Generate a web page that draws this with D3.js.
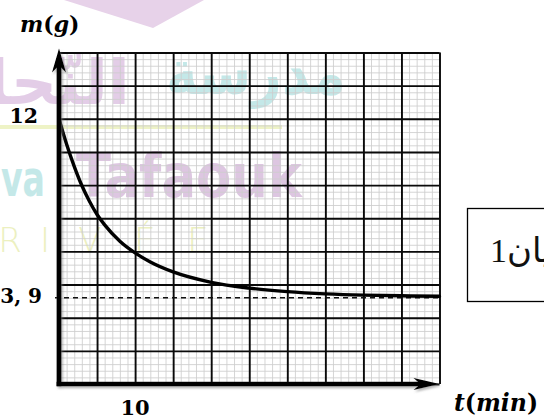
<!DOCTYPE html>
<html>
<head>
<meta charset="utf-8">
<script src="https://cdn.jsdelivr.net/npm/d3@7/dist/d3.min.js"></script>
<style>
  html, body { margin: 0; padding: 0; background: #fff; overflow: hidden; }
  svg { display: block; }
</style>
</head>
<body>
<svg id="chart" width="544" height="420"></svg>
<script>
// Mass m (g) of the sample against time t (min)
const timeMin = [0, 1, 2, 3, 4, 5, 6, 8, 10, 12, 15, 20, 25, 30, 35, 40, 45, 50];
const massG   = [12, 10.85, 9.85, 8.98, 8.27, 7.67, 7.2, 6.46, 5.93, 5.52, 5.07, 4.6, 4.34, 4.18, 4.08, 4.02, 3.99, 3.97];
const finalMassG = 3.9;          // horizontal asymptote (dashed)
const xLabelTicks = [10];        // labelled time tick
const yLabelTicks = [12];        // labelled mass tick
const finalMassLabel = "3, 9";
const xTitle = ["t", "(", "min", ")"];
const yTitle = ["m", "(", "g", ")"];
const boxLabel = "بيان1";

const svg = d3.select("#chart");

const x = d3.scaleLinear().domain([0, 50]).range([59, 439.5]);
const y = d3.scaleLinear().domain([0, 15]).range([384, 52.5]);
const plotH = y(0) - y(15);
const plotW = x(50) - x(0);

// ---- faint school watermark behind the graph paper ----
const wm = svg.append("g").attr("class", "watermark");
wm.append("path")
  .attr("d", "M64,0 L153,28 L204,0 Z")
  .attr("fill", "#e7d2e9");
wm.append("rect").attr("x", 0).attr("y", 125).attr("width", 282).attr("height", 4)
  .attr("fill", "#eef3c6");
wm.append("text").text("مدرسة")
  .attr("x", 166).attr("y", 94)
  .attr("textLength", 180).attr("lengthAdjust", "spacingAndGlyphs")
  .attr("font-family", "DejaVu Sans").attr("font-weight", "bold").attr("font-size", 62)
  .attr("fill", "#c4e8e8");
wm.append("text").text("النّجاح")
  .attr("x", -60).attr("y", 104)
  .attr("textLength", 190).attr("lengthAdjust", "spacingAndGlyphs")
  .attr("font-family", "DejaVu Sans").attr("font-weight", "bold").attr("font-size", 62)
  .attr("fill", "#e3cde7");
wm.append("text").text("va")
  .attr("x", 1).attr("y", 196)
  .attr("textLength", 44).attr("lengthAdjust", "spacingAndGlyphs")
  .attr("font-family", "DejaVu Sans").attr("font-weight", "bold").attr("font-size", 50)
  .attr("fill", "#c4e8e8");
wm.append("text").text("Tafaouk")
  .attr("x", 76).attr("y", 197)
  .attr("textLength", 226).attr("lengthAdjust", "spacingAndGlyphs")
  .attr("font-family", "DejaVu Sans").attr("font-weight", "bold").attr("font-size", 60)
  .attr("fill", "#ddc6e1");
const rivee = ["R", "I", "V", "É", "E"];
wm.selectAll("text.rv").data(rivee).join("text").attr("class", "rv")
  .text(d => d)
  .attr("x", (d, i) => [10, 45, 90, 145, 198][i])
  .attr("y", 252)
  .attr("text-anchor", "middle")
  .attr("font-family", "DejaVu Sans").attr("font-weight", "300").attr("font-size", 34)
  .attr("fill", "#ecf0c0");

// ---- graph paper ----
const grid = svg.append("g").attr("class", "grid");

function gridLayer(cls, xs, ys, color, width) {
  const gx = grid.append("g").attr("class", cls)
    .attr("transform", `translate(0,${y(0)})`)
    .call(d3.axisBottom(x).tickValues(xs).tickSize(-plotH).tickFormat(""));
  const gy = grid.append("g").attr("class", cls)
    .attr("transform", `translate(${x(0)},0)`)
    .call(d3.axisLeft(y).tickValues(ys).tickSize(-plotW).tickFormat(""));
  [gx, gy].forEach(g => {
    g.select(".domain").remove();
    g.selectAll(".tick line").attr("stroke", color).attr("stroke-width", width);
  });
}
gridLayer("minor", d3.range(0, 50.01, 1), d3.range(0, 15.01, 0.3), "#cdcdcd", 0.85);
gridLayer("major", d3.range(0, 50.01, 5), d3.range(0, 15.01, 1.5), "#0a0a0a", 1.9);

// ---- asymptote ----
svg.append("line")
  .attr("x1", x(0) - 4).attr("x2", x(50))
  .attr("y1", y(finalMassG)).attr("y2", y(finalMassG))
  .attr("stroke", "#111").attr("stroke-width", 1.5)
  .attr("stroke-dasharray", "5,4");

// ---- curve ----
const pts = timeMin.map((t, i) => [t, massG[i]]);
svg.append("path")
  .datum(pts)
  .attr("fill", "none")
  .attr("stroke", "#000")
  .attr("stroke-width", 3.4)
  .attr("stroke-linecap", "round")
  .attr("d", d3.line().x(d => x(d[0])).y(d => y(d[1])).curve(d3.curveMonotoneX));

// ---- axes with arrows ----
const defs = svg.append("defs");
const f = defs.append("filter").attr("id", "shadow")
  .attr("x", "-10%").attr("y", "-10%").attr("width", "130%").attr("height", "130%");
f.append("feDropShadow").attr("dx", 1.5).attr("dy", 2).attr("stdDeviation", 1.2)
  .attr("flood-color", "#777").attr("flood-opacity", 0.55);

const axes = svg.append("g").attr("filter", "url(#shadow)");
const x0 = x(0), y0 = y(0);
const yTip = y(15) - 4;
const xTip = x(50);
axes.append("line")
  .attr("x1", x0).attr("x2", x0).attr("y1", y0 + 2.2).attr("y2", yTip + 10)
  .attr("stroke", "#000").attr("stroke-width", 4.8);
axes.append("path")
  .attr("d", `M${x0},${yTip} L${x0 - 7},${yTip + 24} L${x0},${yTip + 17} L${x0 + 7},${yTip + 24} Z`)
  .attr("fill", "#000");
axes.append("line")
  .attr("x1", x0 - 2.4).attr("x2", xTip - 12).attr("y1", y0).attr("y2", y0)
  .attr("stroke", "#000").attr("stroke-width", 4.6);
axes.append("path")
  .attr("d", `M${xTip},${y0} L${xTip - 26},${y0 - 6} L${xTip - 19},${y0} L${xTip - 26},${y0 + 6} Z`)
  .attr("fill", "#000");

// ---- labels ----
const serif = "'DejaVu Serif', 'Liberation Serif', serif";
svg.selectAll("text.ylab").data(yLabelTicks).join("text").attr("class", "ylab")
  .text(d => d)
  .attr("x", 38).attr("y", d => y(d) + 4)
  .attr("text-anchor", "end")
  .attr("font-family", serif).attr("font-weight", "bold").attr("font-size", 20.5);
svg.append("text").text(finalMassLabel)
  .attr("x", 42).attr("y", y(finalMassG) + 5)
  .attr("text-anchor", "end")
  .attr("font-family", serif).attr("font-weight", "bold").attr("font-size", 20);
svg.selectAll("text.xlab").data(xLabelTicks).join("text").attr("class", "xlab")
  .text(d => d)
  .attr("x", d => x(d)).attr("y", 415)
  .attr("text-anchor", "middle")
  .attr("font-family", serif).attr("font-weight", "bold").attr("font-size", 21);

function title(parts, px, py, size) {
  const t = svg.append("text").attr("x", px).attr("y", py)
    .attr("font-family", serif).attr("font-weight", "bold").attr("font-size", size);
  parts.forEach((p, i) => {
    t.append("tspan").text(p).attr("font-style", i % 2 === 0 ? "italic" : "normal");
  });
}
title(yTitle, 20, 32, 22);
title(xTitle, 454, 411, 23.5);

// ---- caption box on the right ----
svg.append("rect")
  .attr("x", 467.5).attr("y", 208.5).attr("width", 100).attr("height", 93)
  .attr("fill", "#fff").attr("stroke", "#000").attr("stroke-width", 1.3);
svg.append("text").text(boxLabel)
  .attr("x", 490).attr("y", 262)
  .attr("font-family", "'Liberation Serif', 'DejaVu Sans', serif").attr("font-size", 34)
  .attr("fill", "#111");
</script>
</body>
</html>
